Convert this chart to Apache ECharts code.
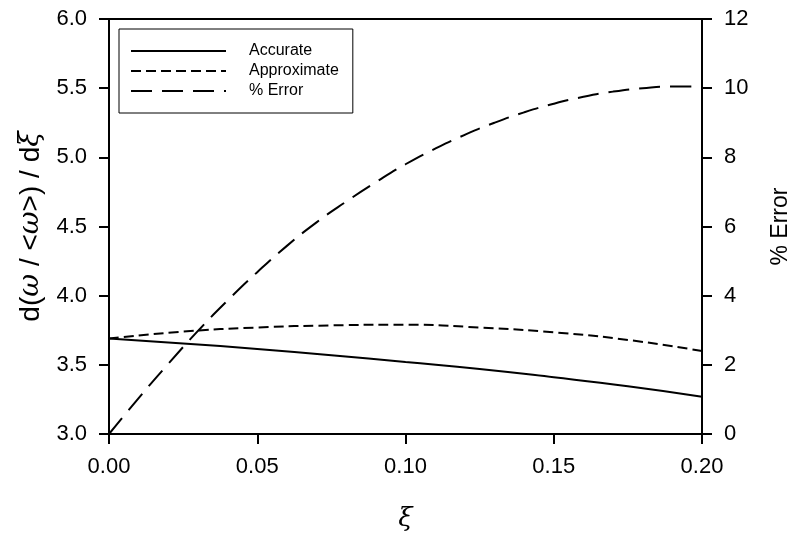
<!DOCTYPE html>
<html>
<head>
<meta charset="utf-8">
<script src="https://cdn.jsdelivr.net/npm/echarts@6/dist/echarts.min.js"></script>
<style>html,body{margin:0;padding:0;background:#fff}#c{width:800px;height:541px}</style>
</head>
<body>
<div id="c"></div>
<script>
// x values (xi)
const xiFine = [0,0.01,0.02,0.03,0.04,0.05,0.06,0.07,0.08,0.09,0.10,0.11,0.12,0.13,0.14,0.15,0.16,0.17,0.18,0.19,0.20];
const errorPct = [0,1.04,2.03,2.98,3.86,4.68,5.44,6.12,6.72,7.28,7.8,8.25,8.65,9.0,9.3,9.55,9.75,9.9,10.0,10.05,10.05];
const xiCoarse = [0,0.025,0.05,0.075,0.10,0.125,0.15,0.175,0.20];
const accurate = [3.69,3.655,3.615,3.57,3.52,3.47,3.41,3.345,3.27];
const approximate = [3.69,3.74,3.77,3.785,3.79,3.77,3.735,3.68,3.60];
const seriesNames = ['Accurate','Approximate','% Error'];

const pair = (xs, ys) => xs.map((x, i) => [x, ys[i]]);
const FONT = '"Liberation Sans", Arial, sans-serif';

const chart = echarts.init(document.getElementById('c'), null, {renderer: 'canvas'});
chart.setOption({
  animation: false,
  backgroundColor: '#fff',
  textStyle: {fontFamily: FONT, color: '#000'},
  grid: {left: 109, right: 98, top: 19, bottom: 107, show: true, borderColor: '#000', borderWidth: 2, backgroundColor: 'transparent'},
  legend: {
    data: seriesNames,
    orient: 'vertical',
    left: 119, top: 29,
    itemWidth: 95, itemHeight: 14, itemGap: 4,
    padding: [14, 14, 14, 11],
    borderColor: '#000', borderWidth: 1,
    backgroundColor: '#fff',
    itemStyle: {opacity: 0},
    textStyle: {fontSize: 16, color: '#000', fontFamily: FONT, padding: [0, 0, 0, 18]}
  },
  xAxis: {
    type: 'value', min: 0, max: 0.2, interval: 0.05,
    name: 'ξ', nameLocation: 'middle', nameGap: 72,
    nameTextStyle: {fontSize: 26, fontStyle: 'italic', fontFamily: '"DejaVu Serif", serif', color: '#000'},
    axisLine: {show: true, lineStyle: {color: '#000', width: 2}},
    axisTick: {show: true, inside: false, length: 10, lineStyle: {color: '#000', width: 2}},
    axisLabel: {fontSize: 22, color: '#000', margin: 22, formatter: v => v.toFixed(2)},
    splitLine: {show: false}
  },
  yAxis: [{
    type: 'value', min: 3, max: 6, interval: 0.5, position: 'left',
    name: '{r|d(}{i|ω}{r| / <}{i|ω}{r|>) / d}{i|ξ}', nameLocation: 'middle', nameGap: 64, nameRotate: 90,
    nameTextStyle: {
      fontSize: 28, color: '#000',
      rich: {
        r: {fontSize: 28, fontFamily: FONT, color: '#000'},
        i: {fontSize: 28, fontStyle: 'italic', fontFamily: '"DejaVu Serif", serif', color: '#000'}
      }
    },
    axisLine: {show: true, lineStyle: {color: '#000', width: 2}},
    axisTick: {show: true, inside: false, length: 10, lineStyle: {color: '#000', width: 2}},
    axisLabel: {fontSize: 22, color: '#000', margin: 22, formatter: v => v.toFixed(1)},
    splitLine: {show: false}
  }, {
    type: 'value', min: 0, max: 12, interval: 2, position: 'right',
    name: '% Error', nameLocation: 'middle', nameGap: 67, nameRotate: 90,
    nameTextStyle: {fontSize: 23, color: '#000', fontFamily: FONT},
    axisLine: {show: true, lineStyle: {color: '#000', width: 2}},
    axisTick: {show: true, inside: false, length: 10, lineStyle: {color: '#000', width: 2}},
    axisLabel: {fontSize: 22, color: '#000', margin: 22},
    splitLine: {show: false}
  }],
  series: [{
    name: seriesNames[0], type: 'line', yAxisIndex: 0, smooth: true, symbol: 'none',
    lineStyle: {color: '#000', width: 2, type: 'solid'}, itemStyle: {color: '#000'},
    data: pair(xiCoarse, accurate)
  }, {
    name: seriesNames[1], type: 'line', yAxisIndex: 0, smooth: true, symbol: 'none',
    lineStyle: {color: '#000', width: 2, type: [10, 5]}, itemStyle: {color: '#000'},
    data: pair(xiCoarse, approximate)
  }, {
    name: seriesNames[2], type: 'line', yAxisIndex: 1, smooth: true, symbol: 'none',
    lineStyle: {color: '#000', width: 2, type: [21, 10]}, itemStyle: {color: '#000'},
    data: pair(xiFine, errorPct)
  }]
});
</script>
</body>
</html>
